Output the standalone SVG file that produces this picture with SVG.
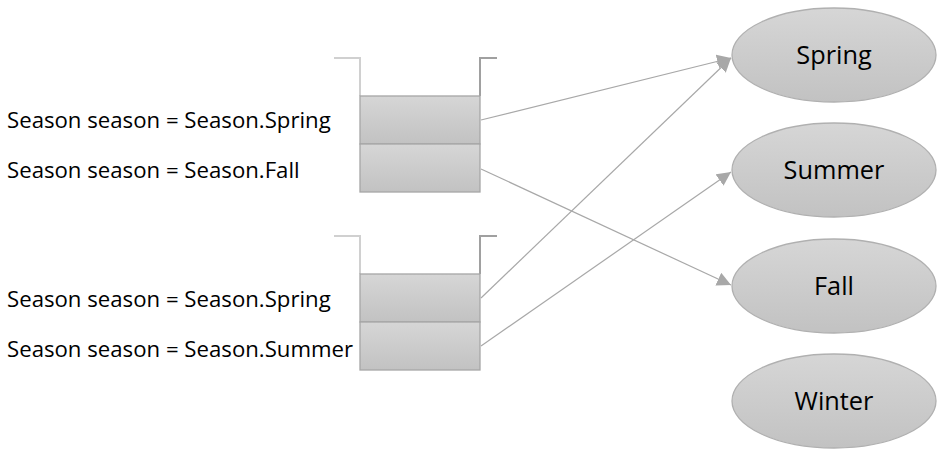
<svg xmlns="http://www.w3.org/2000/svg" width="952" height="459" viewBox="0 0 952 459">
<style>
.lbl{font-family:"Open Sans","Noto Sans",sans-serif;font-size:22.2px;fill:#000}
.el{font-family:"Open Sans","Noto Sans",sans-serif;font-size:25.3px;fill:#000;text-anchor:middle}
.box{fill:url(#g);stroke:#a6a6a6;stroke-width:1.3}
.ell{fill:url(#g);stroke:#b0b0b0;stroke-width:1.3}
.bl{fill:none;stroke:#d0d0d0;stroke-width:2}
.br{fill:none;stroke:#a0a0a0;stroke-width:2}
.c{stroke:#a8a8a8;stroke-width:1.2;fill:none;marker-end:url(#ah)}
</style>
<defs>
<linearGradient id="g" x1="0" y1="0" x2="0" y2="1"><stop offset="0" stop-color="#d6d6d6"/><stop offset="1" stop-color="#c2c2c2"/></linearGradient>
<marker id="ah" viewBox="0 0 10 10" refX="10" refY="5" markerWidth="14" markerHeight="14" markerUnits="userSpaceOnUse" orient="auto"><path d="M0,0L10,5L0,10z" fill="#a8a8a8"/></marker>
</defs>
<g id="stack1">
<path class="bl" d="M334,58H360V96"/>
<path class="br" d="M480,96V58H497"/>
<rect class="box" x="360" y="96" width="120" height="48"/>
<rect class="box" x="360" y="144" width="120" height="48"/>
</g>
<g id="stack2">
<path class="bl" d="M334,236H360V274"/>
<path class="br" d="M480,274V236H497"/>
<rect class="box" x="360" y="274" width="120" height="48"/>
<rect class="box" x="360" y="322" width="120" height="48"/>
</g>
<g id="labels">
<text class="lbl" x="7" y="128">Season season = Season.Spring</text>
<text class="lbl" x="7" y="178">Season season = Season.Fall</text>
<text class="lbl" x="7" y="307">Season season = Season.Spring</text>
<text class="lbl" x="7" y="357">Season season = Season.Summer</text>
</g>
<g id="spring"><ellipse class="ell" cx="834" cy="55" rx="102" ry="47"/><text class="el" x="834" y="64">Spring</text></g>
<g id="summer"><ellipse class="ell" cx="834" cy="170" rx="102" ry="47"/><text class="el" x="834" y="179">Summer</text></g>
<g id="fall"><ellipse class="ell" cx="834" cy="286" rx="102" ry="47"/><text class="el" x="834" y="295">Fall</text></g>
<g id="winter"><ellipse class="ell" cx="834" cy="401" rx="102" ry="47"/><text class="el" x="834" y="410">Winter</text></g>
<g id="connectors">
<line class="c" x1="481" y1="120" x2="731" y2="58"/>
<line class="c" x1="481" y1="169" x2="731" y2="285"/>
<line class="c" x1="481" y1="298" x2="731" y2="58"/>
<line class="c" x1="481" y1="346" x2="731" y2="172"/>
</g>
</svg>
